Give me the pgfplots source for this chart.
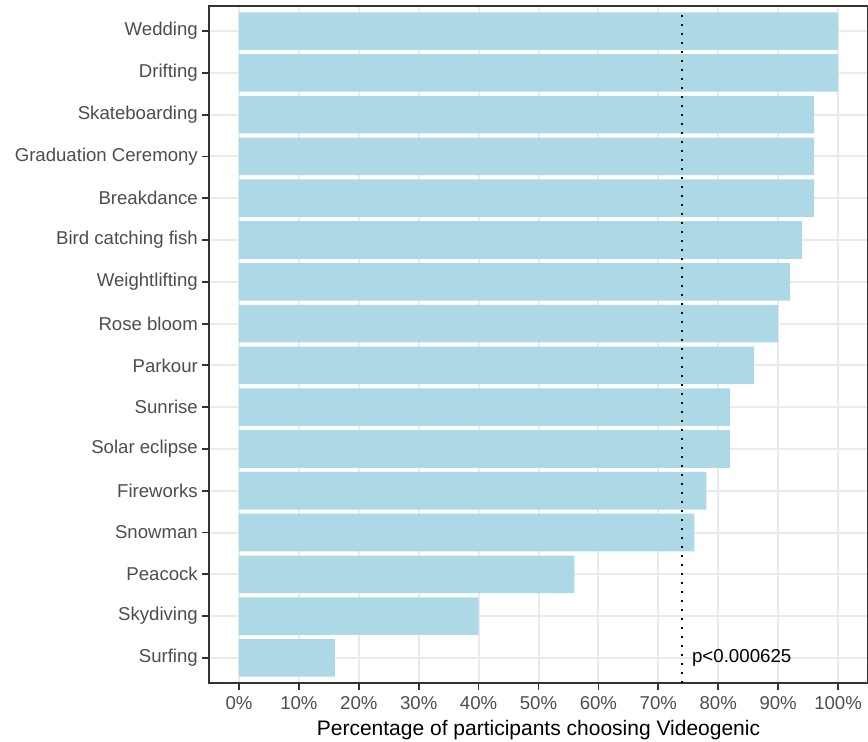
\documentclass[border=0pt]{standalone}
\usepackage{pgfplots}
\pgfplotsset{compat=1.18}
\usepackage{fontspec}
\setmainfont{Liberation Sans}
\definecolor{barblue}{HTML}{ADD8E6}
\definecolor{gridgray}{HTML}{EBEBEB}
\definecolor{framegray}{HTML}{333333}
\definecolor{ticktext}{HTML}{4D4D4D}
\begin{document}
\begin{tikzpicture}
\useasboundingbox (0,0) rectangle (868pt,742pt);
\begin{axis}[
  at={(209pt,59pt)}, anchor=south west,
  scale only axis, width=659pt, height=677pt,
  xmin=-5, xmax=105, ymin=0.4, ymax=16.6,
  xtick={0,10,...,100},
  xticklabels={0\%,10\%,20\%,30\%,40\%,50\%,60\%,70\%,80\%,90\%,100\%},
  ytick={1,...,16},
  yticklabels={Surfing,Skydiving,Peacock,Snowman,Fireworks,Solar eclipse,Sunrise,Parkour,Rose bloom,Weightlifting,Bird catching fish,Breakdance,Graduation Ceremony,Skateboarding,Drifting,Wedding},
  tick align=outside, major tick length=7pt,
  tick style={framegray, line width=1.8pt},
  minor tick num=0,
  xtick pos=bottom, ytick pos=left,
  grid=major,
  major grid style={gridgray, line width=2pt},
  axis line style={framegray, line width=2pt},
  ticklabel style={font=\fontsize{18.6}{22}\selectfont, text=ticktext},
  yticklabel style={inner sep=0pt, xshift=-4pt},
  xticklabel style={inner sep=0pt, yshift=-6pt},
  xlabel={Percentage of participants choosing Videogenic},
  xlabel style={font=\fontsize{21}{25}\selectfont, text=black, inner sep=0pt, yshift=-11pt},
  clip=true,
]
\addplot[xbar, bar width=0.9, bar shift=0pt, fill=barblue, draw=none] coordinates {
  (16,1) (40,2) (56,3) (76,4) (78,5) (82,6) (82,7) (86,8)
  (90,9) (92,10) (94,11) (96,12) (96,13) (96,14) (100,15) (100,16)
};
\addplot[black, line width=2pt, dash pattern=on 2pt off 7pt] coordinates {(74,0.4) (74,16.5)};
\node[anchor=west, inner sep=0pt, font=\fontsize{18.7}{22}\selectfont] at (axis cs:75.6,1.0) {p<0.000625};
\end{axis}
\end{tikzpicture}
\end{document}
